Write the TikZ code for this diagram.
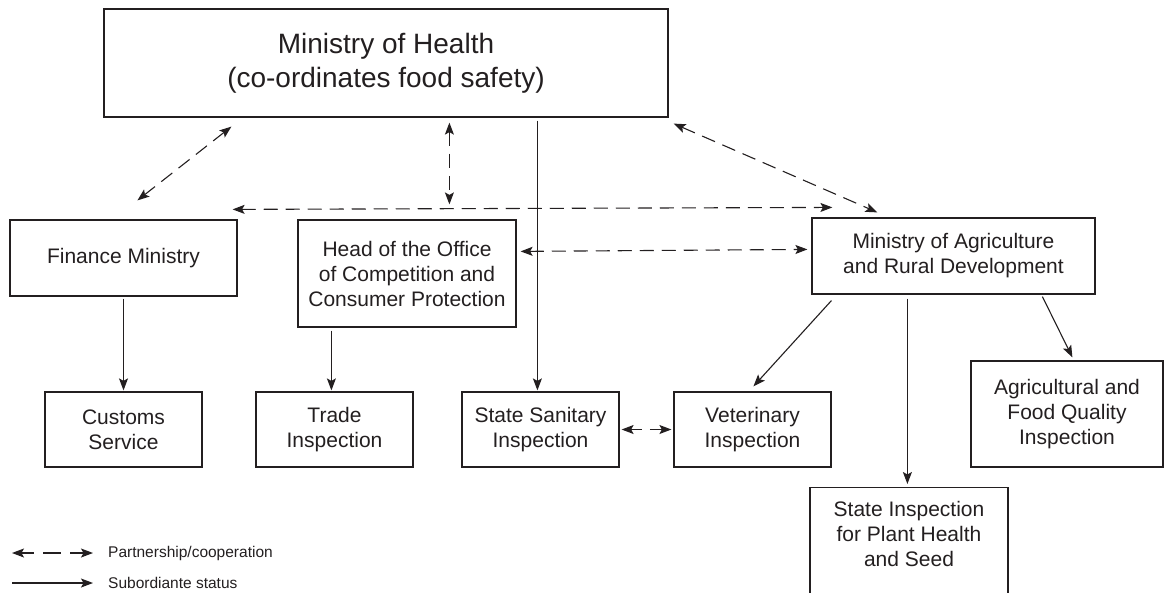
\documentclass[tikz,border=0pt]{standalone}
\usepackage{fontspec}
\setmainfont{Liberation Sans}
\usetikzlibrary{arrows.meta,calc}
\definecolor{ink}{HTML}{231F20}
\begin{document}
\begin{tikzpicture}[x=1pt,y=-1pt,
  box/.style={draw=ink,line width=1.2pt,rectangle,align=center,inner sep=2pt,
    font=\fontsize{21}{25}\selectfont,text=ink},
  sub/.style={draw=ink,line width=1.1pt,-{Stealth[length=12pt,width=9pt,inset=2.5pt]}},
  part/.style={draw=ink,line width=1.1pt,dash pattern=on 14pt off 8pt,
    {Stealth[length=12pt,width=9pt,inset=2.5pt]}-{Stealth[length=12pt,width=9pt,inset=2.5pt]}},
  legtext/.style={font=\fontsize{15.5}{18}\selectfont,text=ink,anchor=west,inner sep=0pt}]
\useasboundingbox (0,0) rectangle (1167,592);
\clip (0,0) rectangle (1167,592);
% boxes
\node[box,minimum width=564pt,minimum height=108pt,font=\fontsize{28}{34}\selectfont] (moh) at (386,63) {Ministry of Health\\(co-ordinates food safety)};
\node[box,minimum width=227pt,minimum height=76pt] (fin) at (123.5,258) {\raisebox{5pt}{Finance Ministry}};
\node[box,minimum width=218pt,minimum height=107pt] (head) at (407,273.5) {Head of the Office\\of Competition and\\Consumer Protection};
\node[box,minimum width=283pt,minimum height=76pt] (moa) at (953.5,256) {Ministry of Agriculture\\and Rural Development};
\node[box,minimum width=157pt,minimum height=75pt] (cus) at (123.5,429.5) {Customs\\Service};
\node[box,minimum width=157pt,minimum height=75pt] (trade) at (334.5,429.5) {Trade\\Inspection};
\node[box,minimum width=157pt,minimum height=75pt] (ssi) at (540.5,429.5) {State Sanitary\\Inspection};
\node[box,minimum width=157pt,minimum height=75pt] (vet) at (752.5,429.5) {Veterinary\\Inspection};
\node[box,minimum width=192pt,minimum height=106pt] (agri) at (1067,414) {Agricultural and\\Food Quality\\Inspection};
\node[box,minimum width=198pt,minimum height=140pt,anchor=north] (plant) at (909,487) {};
\node[box,draw=none,anchor=north] (planttext) at (909,499) {State Inspection\\for Plant Health\\and Seed};
% partnership connectors
\draw[part] ($(moh.south west)+(128,9)$) -- ($(fin.north west)+(128,-19)$);
\draw[part] ($(moh.south west)+(346,5)$) -- ($(head.north west)+(152,-15)$);
\draw[part] ($(fin.north east)+(-5,-10)$) -- ($(moa.north west)+(21,-10)$);
\draw[part] ($(moh.south east)+(5,6)$) -- ($(moa.north west)+(66,-5)$);
\draw[part] ($(head.north east)+(4,32)$) -- ($(moa.north west)+(-4,32)$);
\draw[part,dash pattern=on 11pt off 8pt on 40pt] ($(ssi.east)+(2,0)$) -- ($(vet.west)+(-2,0)$);
% subordinate connectors
\draw[sub] ($(moh.south west)+(434,3)$) -- ($(ssi.north west)+(76,-1)$);
\draw[sub] ($(fin.south)+(0,2)$) -- ($(cus.north)+(0,-1)$);
\draw[sub] ($(head.south west)+(34,3)$) -- ($(trade.north west)+(76,-1)$);
\draw[sub] ($(moa.south west)+(20,6)$) -- ($(vet.north west)+(80,-5)$);
\draw[sub] ($(moa.south west)+(96,4)$) -- ($(plant.north west)+(98,-3)$);
\draw[sub] ($(moa.south west)+(231,2)$) -- ($(agri.north west)+(102,-3)$);
% legend
\node[legtext] (leg1) at (108,553) {Partnership/cooperation};
\node[legtext] (leg2) at (108,583) {Subordiante status};
\coordinate (l1a) at (12,553);
\coordinate (l2a) at (12,583);
\draw[part,dash pattern=on 13pt off 9pt on 18pt off 9pt on 40pt] (l1a) -- ($(leg1.west)+(-15,0)$);
\draw[sub] (l2a) -- ($(leg2.west)+(-15,0)$);
\end{tikzpicture}
\end{document}
